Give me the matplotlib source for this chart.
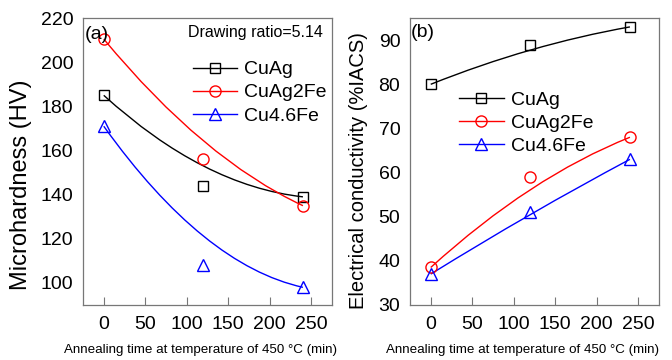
import matplotlib
matplotlib.use('Agg')
import matplotlib.pyplot as plt
from matplotlib.path import Path
from matplotlib.patches import PathPatch
from matplotlib.lines import Line2D

plt.rcParams['font.family'] = ['Liberation Sans', 'DejaVu Sans']

# annealing time (min)
time = [0, 120, 240]

# (a) microhardness (HV)
hv_cuag = [185, 144, 139]
hv_cuag2fe = [210.5, 156, 135]
hv_cu46fe = [171, 108, 98]

# (b) electrical conductivity (%IACS)
ec_cuag = [80, 89, 93]
ec_cuag2fe = [38.5, 59, 68]
ec_cu46fe = [37, 51, 63]

labels = ['CuAg', 'CuAg2Fe', 'Cu4.6Fe']
colors = ['black', 'red', 'blue']
markers = ['s', 'o', '^']
msizes = [7, 8, 8.5]
xticks = [0, 50, 100, 150, 200, 250]
xlabel = 'Annealing time at temperature of 450 °C (min)'


def bspline(ax, x, y, color):
    # quadratic B-spline through first/last point, middle point as control
    verts = list(zip(x, y))
    codes = [Path.MOVETO, Path.CURVE3, Path.CURVE3]
    ax.add_patch(PathPatch(Path(verts, codes), fill=False, edgecolor=color,
                           lw=1.0, transform=ax.transData))


def style(ax, xlab_x):
    for s in ax.spines.values():
        s.set_color('#777777')
        s.set_linewidth(0.9)
    ax.set_xlim(-25, 275)
    ax.set_xticks(xticks)
    ax.tick_params(axis='x', direction='in', length=6, color='#777777',
                   labelsize=14, pad=8)
    ax.tick_params(axis='y', length=0, labelsize=14, pad=7)
    ax.set_xlabel(xlabel, fontsize=9.6)
    ax.xaxis.set_label_coords(xlab_x, -0.136)


fig = plt.figure(figsize=(6.72, 3.6), dpi=100)
ax1 = fig.add_axes([0.1235, 0.1528, 0.3705, 0.797])
ax2 = fig.add_axes([0.6101, 0.1528, 0.3705, 0.797])

handles = []
for i, ys in enumerate([hv_cuag, hv_cuag2fe, hv_cu46fe]):
    bspline(ax1, time, ys, colors[i])
    ax1.plot(time, ys, ls='none', marker=markers[i], ms=msizes[i],
             mfc='none', mec=colors[i], mew=1.0)
    handles.append(Line2D([], [], color=colors[i], lw=1.0, marker=markers[i],
                          ms=msizes[i], mfc='none', mec=colors[i], mew=1.0))

for i, ys in enumerate([ec_cuag, ec_cuag2fe, ec_cu46fe]):
    bspline(ax2, time, ys, colors[i])
    ax2.plot(time, ys, ls='none', marker=markers[i], ms=msizes[i],
             mfc='none', mec=colors[i], mew=1.0)

style(ax1, 0.474)
ax1.set_ylim(90, 220)
ax1.set_yticks([100, 120, 140, 160, 180, 200, 220])
ax1.set_ylabel('Microhardness (HV)', fontsize=17)
ax1.yaxis.set_label_coords(-0.205, 0.418)
ax1.text(0.008, 0.944, '(a)', transform=ax1.transAxes, fontsize=14,
         ha='left', va='center')
ax1.text(0.964, 0.948, 'Drawing ratio=5.14', transform=ax1.transAxes,
         fontsize=11.5, ha='right', va='center')
ax1.legend(handles, labels, loc='upper left', bbox_to_anchor=(0.44, 0.851),
           frameon=False, fontsize=14, borderpad=0, borderaxespad=0,
           handlelength=2.3, handletextpad=0.35, labelspacing=0.28)

style(ax2, 0.454)
ax2.set_ylim(30, 95)
ax2.set_yticks([30, 40, 50, 60, 70, 80, 90])
ax2.set_ylabel('Electrical conductivity (%IACS)', fontsize=14.5)
ax2.yaxis.set_label_coords(-0.169, 0.47)
ax2.text(0.004, 0.948, '(b)', transform=ax2.transAxes, fontsize=14,
         ha='left', va='center')
ax2.legend(handles, labels, loc='upper left', bbox_to_anchor=(0.197, 0.746),
           frameon=False, fontsize=14, borderpad=0, borderaxespad=0,
           handlelength=2.3, handletextpad=0.35, labelspacing=0.28)

fig.savefig('out.png', dpi=100)
